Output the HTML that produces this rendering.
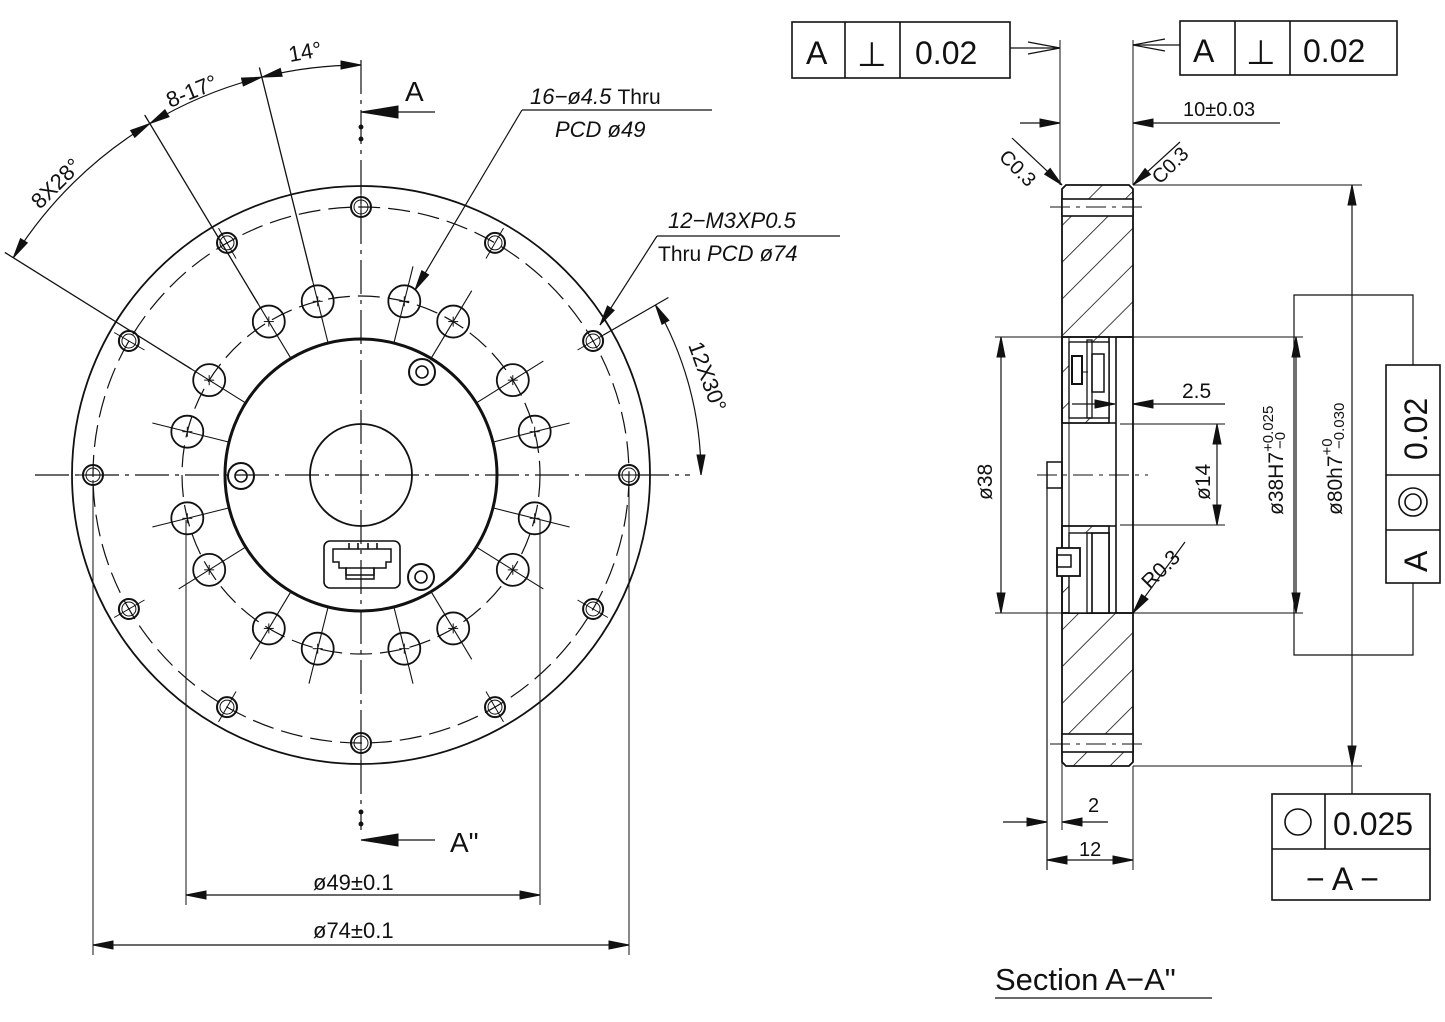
<!DOCTYPE html>
<html><head><meta charset="utf-8">
<style>
html,body{margin:0;padding:0;background:#fff;}
svg{display:block;}
text{font-family:"Liberation Sans",sans-serif;fill:#111;}
</style></head>
<body>
<svg id="s" width="1445" height="1022" viewBox="0 0 1445 1022" xmlns="http://www.w3.org/2000/svg">
<defs>
<pattern id="h" patternUnits="userSpaceOnUse" width="26" height="26" patternTransform="rotate(45)">
<line x1="0" y1="0" x2="0" y2="26" stroke="#111" stroke-width="1.6"/>
</pattern>
</defs>
<g id="g" stroke="#111" fill="none" stroke-width="1.3"></g>

<text x="290" y="62" font-size="22" transform="rotate(-10 290 62)">14°</text>
<text x="170" y="108" font-size="22" transform="rotate(-22 170 108)">8-17°</text>
<text x="40" y="210" font-size="22" transform="rotate(-45 40 210)">8X28°</text>
<text x="405" y="101" font-size="28">A</text>
<text x="450" y="852" font-size="28">A"</text>
<text x="530" y="104" font-size="22" font-style="italic">16−ø4.5 <tspan font-style="normal" font-size="21">Thru</tspan></text>
<text x="555" y="137" font-size="22" font-style="italic">PCD ø49</text>
<text x="668" y="228" font-size="22" font-style="italic">12−M3XP0.5</text>
<text x="658" y="261" font-size="21">Thru <tspan font-style="italic" font-size="22">PCD ø74</tspan></text>
<text x="688" y="345" font-size="22" transform="rotate(70 688 345)">12X30°</text>
<text x="313" y="890" font-size="22">ø49±0.1</text>
<text x="313" y="938" font-size="22">ø74±0.1</text>

<text x="806" y="64" font-size="32">A</text>
<text x="857" y="66" font-size="34">⊥</text>
<text x="915" y="64" font-size="32">0.02</text>
<text x="1193" y="62" font-size="32">A</text>
<text x="1246" y="64" font-size="34">⊥</text>
<text x="1303" y="62" font-size="32">0.02</text>
<text x="1183" y="116" font-size="20">10±0.03</text>
<text x="998" y="158" font-size="20" transform="rotate(45 998 158)">C0.3</text>
<text x="1160" y="185" font-size="20" transform="rotate(-45 1160 185)">C0.3</text>
<text x="1182" y="398" font-size="21">2.5</text>
<text x="992" y="500" font-size="21" transform="rotate(-90 992 500)">ø38</text>
<text x="1210" y="500" font-size="21" transform="rotate(-90 1210 500)">ø14</text>
<text x="1150" y="590" font-size="21" transform="rotate(-45 1150 590)">R0.3</text>
<text x="1283" y="515" font-size="21" transform="rotate(-90 1283 515)">ø38H7<tspan font-size="15" dy="-10">+0.025</tspan></text>
<text x="1283" y="515" font-size="21" transform="rotate(-90 1283 515)"><tspan dx="66" dy="2" font-size="15">−0</tspan></text>
<text x="1342" y="515" font-size="21" transform="rotate(-90 1342 515)">ø80h7<tspan font-size="15" dy="-10">+0</tspan></text>
<text x="1342" y="515" font-size="21" transform="rotate(-90 1342 515)"><tspan dx="66" dy="2" font-size="15">−0.030</tspan></text>
<text x="1427" y="460" font-size="32" transform="rotate(-90 1427 460)">0.02</text>
<text x="1427" y="572" font-size="32" transform="rotate(-90 1427 572)">A</text>
<text x="1088" y="812" font-size="20">2</text>
<text x="1079" y="856" font-size="20">12</text>
<text x="1333" y="835" font-size="32">0.025</text>
<text x="1306" y="890" font-size="32">− A −</text>
<text x="995" y="990" font-size="31">Section A−A"</text>
</svg>
<script>
const g=document.getElementById('g');const NS='http://www.w3.org/2000/svg';
function el(t,a){const e=document.createElementNS(NS,t);for(const k in a)e.setAttribute(k,a[k]);g.appendChild(e);return e;}
function L(x1,y1,x2,y2,w,extra){return el('line',Object.assign({x1,y1,x2,y2,'stroke-width':w||1.3},extra||{}));}
function C(cx,cy,r,w,extra){return el('circle',Object.assign({cx,cy,r,'stroke-width':w||1.5},extra||{}));}
function P(d,w,extra){return el('path',Object.assign({d,'stroke-width':w||1.3},extra||{}));}
const cx=361,cy=475,R=Math.PI/180;
function pt(r,a){return [cx+r*Math.sin(a*R),cy-r*Math.cos(a*R)];}
C(cx,cy,289,1.8);C(cx,cy,136,3);C(cx,cy,51,1.8);
C(cx,cy,268,1.2,{'stroke-dasharray':'22 8'});C(cx,cy,179,1.2,{'stroke-dasharray':'22 8'});
L(cx,60,cx,830,1.2,{'stroke-dasharray':'34 6 4 6'});L(35,cy,690,cy,1.2,{'stroke-dasharray':'34 6 4 6'});
[14,31,58,76,104,122,149,166].forEach(a=>{[a,-a].forEach(b=>{
 const [x,y]=pt(179,b);C(x,y,16,1.8);
 const p1=pt(136,b),p2=pt(215,b);L(p1[0],p1[1],p2[0],p2[1],1.1);
 L(x-5,y,x+5,y,1);L(x,y-5,x,y+5,1);});});
for(let a=0;a<360;a+=30){const [x,y]=pt(268,a);C(x,y,10,2);C(x,y,7,1);
 const p1=pt(250,a),p2=pt(285,a);L(p1[0],p1[1],p2[0],p2[1],1);}
[14,31,58].forEach(a=>{const p1=pt(200,-a),p2=pt(420,-a);L(p1[0],p1[1],p2[0],p2[1],1.3);});
function arrowAt(x,y,ang){const l=20,w=4;const dx=Math.cos(ang),dy=Math.sin(ang);
 P(`M${x},${y} L${x-l*dx-w*dy},${y-l*dy+w*dx} L${x-l*dx+w*dy},${y-l*dy-w*dx}Z`,1,{fill:'#111'});}
function arcDim(r,a1,a2){const p1=pt(r,a1),p2=pt(r,a2);
 P(`M${p1[0]},${p1[1]} A${r},${r} 0 0 1 ${p2[0]},${p2[1]}`,1.2);
 arrowAt(p2[0],p2[1],Math.atan2(Math.sin(a2*R),Math.cos(a2*R)));
 arrowAt(p1[0],p1[1],Math.atan2(-Math.sin(a1*R),-Math.cos(a1*R)));}
arcDim(410,-58,-31);arcDim(410,-31,-14);arcDim(410,-14,0);
{const p0=pt(280,60),p3=pt(355,60);L(p0[0],p0[1],p3[0],p3[1],1.2);arcDim(340,60,90);}
[[422,372],[241,476],[421,577]].forEach(([x,y])=>{C(x,y,13,2);C(x,y,6,1.6);});
el('rect',{x:324,y:541,width:76,height:47,rx:6,'stroke-width':1.6});
P('M333,549 H391 V562 H386 V568 H374 V575 H346 V568 H339 V562 H333 Z',1.5);
el('rect',{x:346,y:568,width:28,height:11,'stroke-width':1.5});
[349,358,368,377].forEach(x=>L(x,543,x,549,1.6));
L(361,112,435,112,1.3);P('M361,112 L398,106 L398,118 Z',1,{fill:'#111'});
el('circle',{cx:361,cy:127,r:1.8,fill:'#111'});el('circle',{cx:361,cy:139,r:1.8,fill:'#111'});
L(361,840,435,840,1.3);P('M361,840 L398,834 L398,846 Z',1,{fill:'#111'});
el('circle',{cx:361,cy:812,r:1.8,fill:'#111'});el('circle',{cx:361,cy:824,r:1.8,fill:'#111'});
L(415,290,522,110,1.2);L(522,110,712,110,1.2);arrowAt(415,290,Math.atan2(180,-107));
L(600,325,657,236,1.2);L(657,236,840,236,1.2);arrowAt(600,325,Math.atan2(89,-57));
L(186,520,186,905,1);L(540,520,540,905,1);L(186,895,540,895,1.2);arrowAt(186,895,Math.PI);arrowAt(540,895,0);
L(93,480,93,955,1);L(629,480,629,955,1);L(93,945,629,945,1.2);arrowAt(93,945,Math.PI);arrowAt(629,945,0);

const hatch={fill:'url(#h)'};
P('M1066,185 H1129 L1133,189 V337 H1062 V189 Z',1.8,hatch);
P('M1062,613 H1133 V762 L1129,766 H1066 L1062,762 Z',1.8,hatch);
el('rect',{x:1062,y:199,width:71,height:17,fill:'#fff','stroke-width':1.6});
el('rect',{x:1062,y:734,width:71,height:18,fill:'#fff','stroke-width':1.6});
L(1050,207,1142,207,1,{'stroke-dasharray':'20 6 4 6'});L(1050,744,1142,744,1,{'stroke-dasharray':'20 6 4 6'});
L(1062,337,1062,613,1.8);L(1133,337,1133,613,1.8);
L(1116,337,1116,613,1.6);L(1116,337,1133,337,1.6);L(1116,613,1133,613,1.6);
L(1069,337,1069,613,1);
P('M1062,337 H1109 V423 H1062 Z',1.6,hatch);
el('rect',{x:1069,y:342,width:40,height:76,fill:'#fff','stroke-width':1.4});
el('rect',{x:1087,y:340,width:5,height:78,'stroke-width':1.3});
el('rect',{x:1092,y:354,width:12,height:38,'stroke-width':1.5});
el('rect',{x:1072,y:356,width:10,height:28,'stroke-width':2});
L(1082,372,1088,372,1);
L(1062,423,1116,423,1.6);
L(1062,526,1116,526,1.6);
P('M1062,526 H1109 V613 H1062 Z',1.6,hatch);
el('rect',{x:1069,y:533,width:40,height:80,fill:'#fff','stroke-width':1.4});
el('rect',{x:1087,y:533,width:5,height:80,'stroke-width':1.3});
el('rect',{x:1092,y:533,width:17,height:80,'stroke-width':1.5});
el('rect',{x:1057,y:548,width:23,height:28,fill:'#fff','stroke-width':1.8});
el('rect',{x:1057,y:555,width:14,height:12,'stroke-width':1.5});
el('rect',{x:1047,y:462,width:15,height:26,'stroke-width':1.5});
L(1037,475,1148,475,1,{'stroke-dasharray':'20 6 4 6'});
L(1047,488,1047,870,1.2);
el('rect',{x:792,y:22,width:218,height:56,'stroke-width':1.6});L(845,22,845,78,1.6);L(900,22,900,78,1.6);
L(1010,48,1060,48,1.2);P('M1060,48 L1028,42 M1060,48 L1028,54',1.2);
el('rect',{x:1180,y:21,width:217,height:54,'stroke-width':1.6});L(1235,21,1235,75,1.6);L(1290,21,1290,75,1.6);
L(1133,45,1180,45,1.2);P('M1133,45 L1165,39 M1133,45 L1165,51',1.2);
L(1060,40,1060,185,1);L(1133,40,1133,185,1);
L(1020,123,1060,123,1.2);arrowAt(1060,123,0);L(1133,123,1280,123,1.2);arrowAt(1133,123,Math.PI);
L(1012,138,1062,185,1.2);arrowAt(1062,185,Math.atan2(47,50));
L(1180,142,1133,185,1.2);arrowAt(1133,185,Math.atan2(43,-47));
L(1133,185,1362,185,1);L(1133,766,1362,766,1);L(1352,185,1352,794,1.2);
arrowAt(1352,185,-Math.PI/2);arrowAt(1352,766,Math.PI/2);
L(1116,337,1303,337,1);L(1116,613,1303,613,1);L(1296,337,1296,613,1.2);
arrowAt(1296,337,-Math.PI/2);arrowAt(1296,613,Math.PI/2);
P('M1413,365 V295 H1294 V655 H1413 V583',1.2);
el('rect',{x:1386,y:365,width:54,height:218,'stroke-width':1.6});L(1386,475,1440,475,1.6);L(1386,530,1440,530,1.6);
C(1413,502,14,1.6);C(1413,502,8,1.6);
L(995,337,1062,337,1);L(995,613,1062,613,1);L(1001,337,1001,613,1.2);
arrowAt(1001,337,-Math.PI/2);arrowAt(1001,613,Math.PI/2);
L(1120,424,1225,424,1);L(1120,525,1225,525,1);L(1217,424,1217,525,1.2);
arrowAt(1217,424,-Math.PI/2);arrowAt(1217,525,Math.PI/2);
L(1072,404,1115,404,1.2);arrowAt(1115,404,0);
L(1133,404,1225,404,1.2);arrowAt(1133,404,Math.PI);
L(1185,542,1133,613,1.2);arrowAt(1133,613,Math.atan2(71,-52));
L(1062,613,1062,830,1);L(1133,766,1133,870,1);
L(1003,822,1047,822,1.2);arrowAt(1047,822,0);L(1062,822,1108,822,1.2);arrowAt(1062,822,Math.PI);
L(1047,860,1133,860,1.2);arrowAt(1047,860,Math.PI);arrowAt(1133,860,0);
el('rect',{x:1272,y:794,width:158,height:106,'stroke-width':1.6});L(1272,849,1430,849,1.6);L(1325,794,1325,849,1.6);
C(1298,822,13,1.6);
L(995,998,1212,998,1.3);
</script>
</body></html>
